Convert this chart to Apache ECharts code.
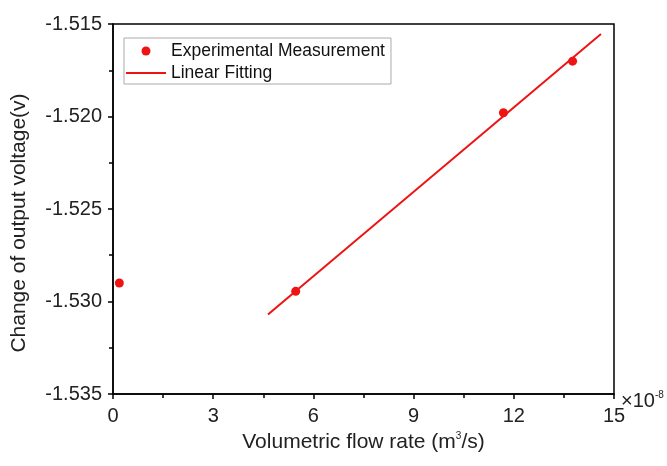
<!DOCTYPE html>
<html><head><meta charset="utf-8">
<script src="https://cdn.jsdelivr.net/npm/echarts@6/dist/echarts.min.js"></script>
<style>html,body{margin:0;padding:0;background:#fff}#c{width:667px;height:466px}</style>
</head><body><div id="c"></div>
<script>
var measX = [0.19, 5.47, 11.69, 13.76];
var measY = [-1.5290, -1.52945, -1.51980, -1.51701];
var fitX = [4.64, 14.61];
var fitY = [-1.5307, -1.51554];
var xTicks = [0, 3, 6, 9, 12, 15];
var yTicks = [-1.535, -1.530, -1.525, -1.520, -1.515];

var chart = echarts.init(document.getElementById('c'));
var font = 'Liberation Sans, Arial, sans-serif';
var red = '#ee1414';
chart.setOption({
  animation: false,
  grid: {left: 113, right: 53, top: 24, bottom: 72, show: true, borderColor: '#000', borderWidth: 1.5},
  legend: {
    orient: 'vertical', left: 124, top: 38, itemWidth: 40, itemHeight: 9, itemGap: 4,
    padding: [4, 6, 2, 2], borderColor: '#aaa', borderWidth: 1,
    textStyle: {fontFamily: font, fontSize: 17.5, color: '#111'},
    data: [
      {name: 'Experimental Measurement', icon: 'circle'},
      {name: 'Linear Fitting', icon: 'path://M0,0 M40,9 M0,3.5 L40,3.5 L40,5.5 L0,5.5 Z'}
    ]
  },
  xAxis: {
    type: 'value', min: xTicks[0], max: xTicks[xTicks.length - 1], interval: 3,
    name: 'Volumetric flow rate (m{sup|3}/s)', nameLocation: 'middle', nameGap: 37,
    nameTextStyle: {fontFamily: font, fontSize: 21, color: '#222', rich: {sup: {fontSize: 10, verticalAlign: 'top', padding: [0, 0, 12, 0], fontFamily: font, color: '#222'}}},
    axisLine: {lineStyle: {color: '#000', width: 1.5}},
    axisTick: {length: 5, lineStyle: {color: '#000', width: 1.5}},
    minorTick: {show: true, splitNumber: 2, length: 4, lineStyle: {color: '#000', width: 1.5}},
    axisLabel: {fontFamily: font, fontSize: 20, color: '#222', margin: 12},
    splitLine: {show: false}
  },
  yAxis: {
    type: 'value', min: yTicks[0], max: yTicks[yTicks.length - 1], interval: 0.005,
    name: 'Change of output voltage(v)', nameLocation: 'middle', nameGap: 83,
    nameTextStyle: {fontFamily: font, fontSize: 21, color: '#222', padding: [0, 28, 0, 0]},
    axisLine: {lineStyle: {color: '#000', width: 1.5}},
    axisTick: {length: 5, lineStyle: {color: '#000', width: 1.5}},
    minorTick: {show: true, splitNumber: 2, length: 4, lineStyle: {color: '#000', width: 1.5}},
    axisLabel: {fontFamily: font, fontSize: 20, color: '#222', margin: 11, formatter: function (v) { return v.toFixed(3); }},
    splitLine: {show: false}
  },
  graphic: [{
    type: 'text', left: 621, top: 390,
    style: {text: '×10{s|-8}', fontFamily: font, fontSize: 20, fill: '#222', rich: {s: {fontSize: 10, verticalAlign: 'top', padding: [0, 0, 12, 0], fontFamily: font, fill: '#222'}}}
  }],
  series: [{
    name: 'Experimental Measurement', type: 'scatter', symbol: 'circle', symbolSize: 9,
    itemStyle: {color: red, opacity: 1},
    data: measX.map(function (x, i) { return [x, measY[i]]; })
  }, {
    name: 'Linear Fitting', type: 'line', showSymbol: false, symbol: 'none',
    lineStyle: {color: red, width: 2}, itemStyle: {color: red},
    data: fitX.map(function (x, i) { return [x, fitY[i]]; })
  }]
});
</script></body></html>
